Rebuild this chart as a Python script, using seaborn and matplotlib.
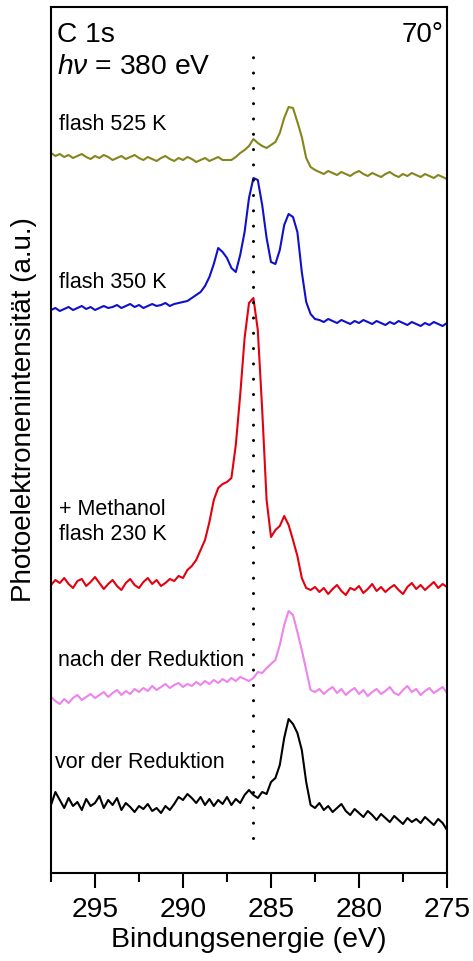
import numpy as np
import pandas as pd
import seaborn as sns
import matplotlib.pyplot as plt
from matplotlib.ticker import FixedLocator

# binding energy grid of the spectra (eV)
energie = [297.5, 297.25, 297.0, 296.75, 296.5, 296.25, 296.0, 295.75, 295.5, 295.25,
           295.0, 294.75, 294.5, 294.25, 294.0, 293.75, 293.5, 293.25, 293.0, 292.75,
           292.5, 292.25, 292.0, 291.75, 291.5, 291.25, 291.0, 290.75, 290.5, 290.25,
           290.0, 289.75, 289.5, 289.25, 289.0, 288.75, 288.5, 288.25, 288.0, 287.75,
           287.5, 287.25, 287.0, 286.75, 286.5, 286.25, 286.0, 285.75, 285.5, 285.25,
           285.0, 284.75, 284.5, 284.25, 284.0, 283.75, 283.5, 283.25, 283.0, 282.75,
           282.5, 282.25, 282.0, 281.75, 281.5, 281.25, 281.0, 280.75, 280.5, 280.25,
           280.0, 279.75, 279.5, 279.25, 279.0, 278.75, 278.5, 278.25, 278.0, 277.75,
           277.5, 277.25, 277.0, 276.75, 276.5, 276.25, 276.0, 275.75, 275.5, 275.25,
           275.0]

# stacked intensities (a.u.)
flash_525 = [720, 717, 719, 716, 718, 715, 717, 719, 716, 714, 717, 715, 718, 716, 713, 715,
             717, 714, 716, 718, 715, 713, 716, 714, 712, 715, 717, 714, 712, 715, 713, 716,
             714, 711, 713, 715, 712, 714, 716, 713, 713,
             713, 716, 720, 723, 727, 734, 730, 727, 725, 728, 731, 740, 755, 766, 765, 751,
             736, 715, 706, 703,
             701, 699, 702, 700, 698, 701, 699, 697, 700, 702, 699, 697, 700, 698, 696, 699,
             701, 698, 696, 699, 697, 700, 698, 696, 699, 697, 695, 698, 696, 694]

flash_350 = [563, 565, 562, 564, 566, 563, 565, 567, 564, 566, 563, 565, 567, 565, 566, 568,
             565, 567, 569, 566, 568, 565, 567, 569, 567, 568, 570, 567, 569, 570,
             571, 572, 575, 578, 581, 587, 596, 609, 625, 621, 615, 605, 601, 618, 641, 675,
             695, 693, 668, 635, 611, 609, 623, 648, 659, 656, 641, 601, 571, 559, 554,
             553, 551, 554, 552, 550, 553, 551, 549, 552, 550, 553, 551, 549, 552, 550, 548,
             551, 549, 552, 550, 548, 551, 549, 547, 550, 548, 551, 549, 547, 550]

methanol_230 = [288, 293, 290, 295, 289, 285, 292, 294, 287, 291, 296, 290, 284, 289, 293, 287,
                283, 290, 294, 288, 285, 291, 295, 289, 293, 287, 290, 294, 292, 297,
                295, 303, 307, 313, 323, 333, 351, 373, 385, 389, 391, 395, 428, 478, 535, 570,
                575, 543, 463, 373, 336, 343, 347, 357, 348, 333, 317, 295, 285, 283, 286,
                281, 285, 279, 284, 288, 282, 278, 285, 283, 287, 280, 284, 289, 282, 286, 281,
                285, 288, 283, 279, 286, 290, 284, 288, 283, 287, 291, 285, 289, 286]

nach_reduktion = [176, 172, 169, 174, 170, 175, 178, 173, 176, 179, 175, 178, 181, 176, 180, 183,
                  178, 182, 179, 184, 181, 185, 182, 187, 183, 186, 189, 185, 188, 190,
                  186, 189, 187, 191, 188, 192, 189, 193, 190, 194, 191, 195, 192, 196, 194, 192,
                  195, 201, 200, 205, 209, 213, 228, 248, 262, 258, 241, 223, 203, 183, 181,
                  184, 179, 183, 186, 180, 184, 178, 182, 185, 179, 183, 177, 181, 184, 179, 182,
                  186, 180, 178, 183, 187, 181, 184, 178, 182, 185, 180, 183, 186, 180]

vor_reduktion = [68, 81, 73, 65, 75, 67, 71, 63, 74, 67, 70, 77, 65, 73, 68, 75,
                 63, 70, 66, 61, 67, 64, 69, 62, 65, 60, 67, 63, 69, 76,
                 73, 79, 75, 70, 76, 68, 74, 67, 73, 69, 76, 68, 74, 70, 78, 83,
                 78, 75, 81, 79, 91, 95, 108, 135, 154, 149, 140, 123, 91, 68, 65,
                 70, 63, 67, 61, 65, 69, 62, 58, 64, 60, 56, 62, 58, 53, 59, 55,
                 51, 57, 53, 49, 55, 51, 54, 50, 56, 52, 48, 54, 50, 43]

serien = ["flash 525 K", "flash 350 K", "+ Methanol\nflash 230 K",
          "nach der Reduktion", "vor der Reduktion"]
farben = ["#85851c", "#1010cc", "#e3000f", "#ee82ee", "#000000"]
peak_pos = 286.0

df = pd.concat([
    pd.DataFrame({"E": energie, "I": werte, "serie": name})
    for name, werte in zip(serien, [flash_525, flash_350, methanol_230,
                                    nach_reduktion, vor_reduktion])
])

sns.set_style("ticks", {"axes.edgecolor": "black", "text.color": "black",
                        "axes.labelcolor": "black", "xtick.color": "black",
                        "ytick.color": "black"})
plt.rcParams["font.family"] = ["Liberation Sans", "DejaVu Sans"]
plt.rcParams["mathtext.fontset"] = "custom"
plt.rcParams["mathtext.it"] = "Liberation Sans:italic"
plt.rcParams["mathtext.rm"] = "Liberation Sans"

fig = plt.figure(figsize=(4.73, 9.61), dpi=100)
ax = fig.add_axes([51 / 473, 88 / 961, 396 / 473, 866 / 961])

sns.lineplot(data=df, x="E", y="I", hue="serie", palette=farben, hue_order=serien,
             sort=False, estimator=None, linewidth=1.5, legend=False, ax=ax)

# dotted marker line
ax.axvline(peak_pos, ymin=0.04, ymax=0.953, color="black", linewidth=2.2,
           linestyle=(0, (0.01, 5)), dash_capstyle="round")

ax.set_xlim(297.5, 275)
ax.set_ylim(0, 866)
ax.set_xticks([295, 290, 285, 280, 275])
ax.xaxis.set_minor_locator(FixedLocator([297.5, 292.5, 287.5, 282.5, 277.5]))
ax.set_yticks([])
ax.tick_params(axis="x", which="major", direction="out", length=10.5, width=1.5,
               labelsize=20.3, pad=7, colors="black")
ax.tick_params(axis="x", which="minor", direction="out", length=6.5, width=1.5,
               colors="black")
for s in ax.spines.values():
    s.set_visible(True)
    s.set_linewidth(1.5)
    s.set_color("black")

ax.set_xlabel("Bindungsenergie (eV)", fontsize=20.5, labelpad=3, color="black")
ax.set_ylabel("Photoelektronenintensität (a.u.)", fontsize=20, color="black")
ax.yaxis.set_label_coords(-0.035, 0.535)

# annotations (axes fraction coords)
def px(x, y):
    return (x - 51) / 396, (873 - y) / 866

ax.text(*px(57, 35), "C 1s", fontsize=20.3, va="center", ha="left", color="black",
        transform=ax.transAxes)
ax.text(*px(57, 67), r"$h\nu$ = 380 eV", fontsize=20.3, va="center", ha="left",
        color="black", transform=ax.transAxes)
ax.text(*px(443, 35), "70°", fontsize=20, va="center", ha="right", color="black",
        transform=ax.transAxes)

label_pos = [(59, 125), (59, 283), (59, 522), (58, 660), (55, 762)]
for name, (x, y) in zip(serien, label_pos):
    ax.text(*px(x, y), name, fontsize=15.5, va="center", ha="left", color="black",
            linespacing=1.25, transform=ax.transAxes)

fig.savefig("out.png", dpi=100)
